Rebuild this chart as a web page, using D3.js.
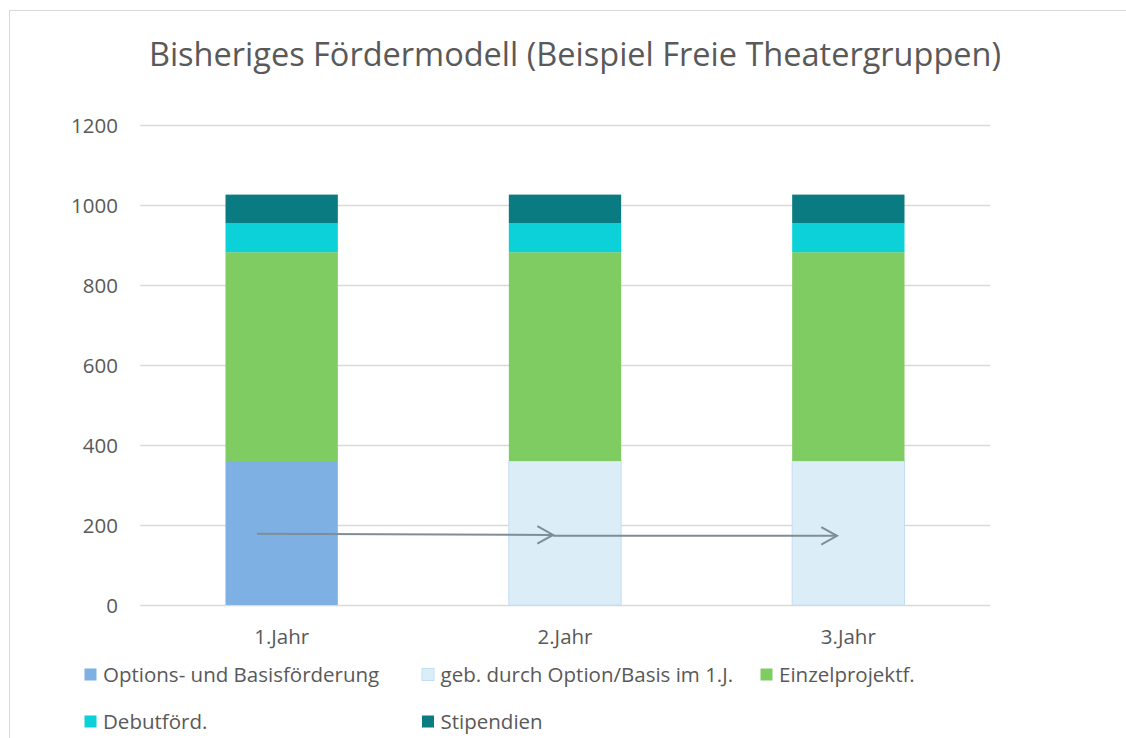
<!DOCTYPE html>
<html>
<head>
<meta charset="utf-8">
<script src="https://cdn.jsdelivr.net/npm/d3@7"></script>
<style>
  html, body { margin: 0; padding: 0; background: #fff; }
  svg { display: block; font-family: "Open Sans", sans-serif; }
</style>
</head>
<body>
<svg id="chart" width="1126" height="738"></svg>
<script>
// ---- data ----
const categories = ["1.Jahr", "2.Jahr", "3.Jahr"];
const seriesNames = [
  "Options- und Basisförderung",
  "geb. durch Option/Basis im 1.J.",
  "Einzelprojektf.",
  "Debutförd.",
  "Stipendien"
];
const basisValues = [360, 0, 0];
const gebundenValues = [0, 360, 360];
const einzelValues = [522, 522, 522];
const debutValues = [72, 72, 72];
const stipendienValues = [72, 72, 72];
const yTickValues = [0, 200, 400, 600, 800, 1000, 1200];
const titleText = "Bisheriges Fördermodell (Beispiel Freie Theatergruppen)";
// arrows: from category (offset as fraction of band step) at value -> to category
const arrowFrom = ["1.Jahr", "2.Jahr"];
const arrowFromShift = [-0.087, -0.042];
const arrowFromValue = [178, 173];
const arrowTo = ["2.Jahr", "3.Jahr"];
const arrowToShift = [-0.042, -0.040];
const arrowToValue = [175, 173];

// ---- styles ----
const colors = ["#7fb0e4", "#dbeef8", "#7ecc62", "#0dd1d9", "#0a7b80"];
const strokes = ["none", "#c3def3", "none", "none", "none"];
const textColor = "#595959";
const smallFont = "20.5px";

const svg = d3.select("#chart");

// chart frame
svg.append("rect")
  .attr("x", 9.5).attr("y", 10.5)
  .attr("width", 1130).attr("height", 740)
  .attr("fill", "#fff").attr("stroke", "#d9d9d9").attr("stroke-width", 1);

const x = d3.scaleBand().domain(categories).range([140, 990])
  .paddingInner(0.6).paddingOuter(0.3);
const y = d3.scaleLinear().domain([0, 1200]).range([605, 125]);

// gridlines
svg.append("g").selectAll("line").data(yTickValues).join("line")
  .attr("x1", 140).attr("x2", 990)
  .attr("y1", d => Math.round(y(d)) + 0.5).attr("y2", d => Math.round(y(d)) + 0.5)
  .attr("stroke", "#d9d9d9").attr("stroke-width", 1.3);

// y axis labels
const yAxis = d3.axisLeft(y).tickValues(yTickValues).tickFormat(d3.format("d"))
  .tickSize(0).tickPadding(0);
const gy = svg.append("g").attr("transform", "translate(118,0)").call(yAxis);
gy.select(".domain").remove();
gy.selectAll("text").attr("fill", textColor).attr("dy", "0.37em")
  .style("font-size", smallFont).style("font-family", "'Open Sans', sans-serif");

// x axis labels
const xAxis = d3.axisBottom(x).tickSize(0).tickPadding(0);
const gx = svg.append("g").attr("transform", "translate(0,644)").call(xAxis);
gx.select(".domain").remove();
gx.selectAll("text").attr("fill", textColor).attr("y", 0).attr("dy", 0)
  .style("font-size", smallFont).style("font-family", "'Open Sans', sans-serif");

// stacked data
const table = categories.map((c, i) => ({
  cat: c,
  s0: basisValues[i], s1: gebundenValues[i], s2: einzelValues[i],
  s3: debutValues[i], s4: stipendienValues[i]
}));
const keys = ["s0", "s1", "s2", "s3", "s4"];
const stacked = d3.stack().keys(keys)(table);

svg.append("g").selectAll("g").data(stacked).join("g")
  .attr("fill", (d, i) => colors[i])
  .attr("stroke", (d, i) => strokes[i])
  .selectAll("rect").data(d => d.filter(p => p[1] - p[0] > 0)).join("rect")
  .attr("x", d => x(d.data.cat) + 0.5)
  .attr("width", x.bandwidth() - 1)
  .attr("y", d => y(d[1]))
  .attr("height", d => y(d[0]) - y(d[1]));

// arrows
const arrowColor = "#7f8d95";
const ag = svg.append("g").attr("stroke", arrowColor).attr("stroke-width", 2).attr("fill", "none");
arrowFrom.forEach((f, i) => {
  const x1 = x(f) + x.bandwidth() / 2 + arrowFromShift[i] * x.step();
  const y1 = y(arrowFromValue[i]);
  const x2 = x(arrowTo[i]) + x.bandwidth() / 2 + arrowToShift[i] * x.step();
  const y2 = y(arrowToValue[i]);
  ag.append("line").attr("x1", x1).attr("y1", y1).attr("x2", x2).attr("y2", y2);
  const ang = Math.atan2(y2 - y1, x2 - x1);
  const L = 18, A = Math.PI / 6.2;
  ag.append("polyline")
    .attr("points", [
      [x2 - L * Math.cos(ang - A), y2 - L * Math.sin(ang - A)],
      [x2, y2],
      [x2 - L * Math.cos(ang + A), y2 - L * Math.sin(ang + A)]
    ].map(p => p.join(",")).join(" "))
    .attr("stroke-linejoin", "miter");
});

// title
svg.append("text").attr("x", 575).attr("y", 66)
  .attr("text-anchor", "middle").attr("fill", textColor)
  .style("font-size", "32.5px").text(titleText);

// legend
const legendPos = [[84, 682], [421.5, 682], [760, 682], [84, 729], [421.5, 729]];
const lg = svg.append("g");
seriesNames.forEach((name, i) => {
  const [lx, ly] = legendPos[i];
  lg.append("rect").attr("x", lx + 0.5).attr("y", ly - 13.5).attr("width", 12).attr("height", 12)
    .attr("fill", colors[i]).attr("stroke", strokes[i]);
  lg.append("text").attr("x", lx + 19).attr("y", ly).attr("fill", textColor)
    .style("font-size", smallFont).text(name);
});
</script>
</body>
</html>
